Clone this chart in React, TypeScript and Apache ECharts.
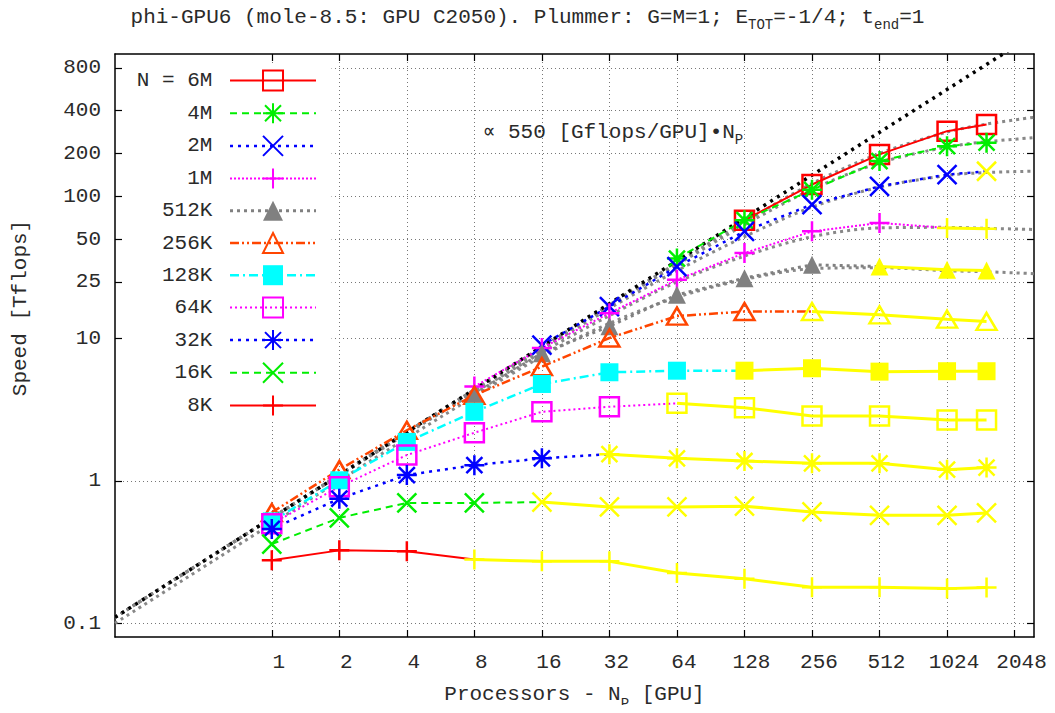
import React, { useEffect, useRef } from "react";
import * as echarts from "echarts";

// ---------- data ----------
const xTickValues = [1, 2, 4, 8, 16, 32, 64, 128, 256, 512, 1024, 2048];
const yTickValues = [0.1, 1, 10, 25, 50, 100, 200, 400, 800];
const xRange = [0.2, 2500];
const yRange = [0.08, 1000];

const seriesNames = ["6M", "4M", "2M", "1M", "512K", "256K", "128K", "64K", "32K", "16K", "8K"];

const np6M = [128, 256, 512, 1024, 1536];
const sp6M = [68, 121, 197, 287, 320];
const np4M = [64, 128, 256, 512, 1024, 1536];
const sp4M = [36.5, 68, 111, 177, 225, 238];
const np2M = [16, 32, 64, 128, 256, 512, 1024, 1536];
const sp2M = [9.0, 16.8, 32, 56.7, 87.5, 117.5, 142, 150];
const np1M = [8, 16, 32, 64, 128, 256, 512, 1024, 1536];
const sp1M = [4.6, 8.6, 15.1, 25.9, 39.9, 56.7, 65, 59.9, 59.2];
const np512K = [8, 16, 32, 64, 128, 256, 512, 1024, 1536];
const sp512K = [4.1, 7.9, 12.2, 20.3, 26.6, 33, 32.1, 30.5, 30.1];
const npAll = [1, 2, 4, 8, 16, 32, 64, 128, 256, 512, 1024, 1536];
const sp256K = [0.6, 1.2, 2.27, 4.0, 6.35, 10.1, 14.4, 15.5, 15.5, 14.7, 13.7, 13.2];
const sp128K = [0.52, 1.01, 1.88, 3.06, 4.8, 5.8, 5.95, 5.95, 6.19, 5.86, 5.9, 5.9];
const sp64K = [0.5, 0.91, 1.52, 2.18, 3.06, 3.32, 3.51, 3.27, 2.86, 2.86, 2.68, 2.68];
const sp32K = [0.46, 0.75, 1.1, 1.29, 1.44, 1.54, 1.44, 1.38, 1.33, 1.33, 1.2, 1.24];
const sp16K = [0.36, 0.55, 0.7, 0.7, 0.71, 0.656, 0.656, 0.664, 0.605, 0.573, 0.573, 0.596];
const sp8K = [0.277, 0.325, 0.32, 0.28, 0.272, 0.272, 0.225, 0.205, 0.179, 0.179, 0.175, 0.178];

// first N_P at which each run is drawn in yellow (null: never)
const yellowFrom = [null, null, 1536, 1024, 512, 256, 128, 64, 32, 16, 8];

const seriesNP = [np6M, np4M, np2M, np1M, np512K, npAll, npAll, npAll, npAll, npAll, npAll];
const seriesSpeed = [sp6M, sp4M, sp2M, sp1M, sp512K, sp256K, sp128K, sp64K, sp32K, sp16K, sp8K];

// ideal scaling: 550 Gflops/GPU * N_P
const idealNP = [0.2, 2500];
const idealSpeed = [0.11, 1375];

// model (fit) curves, grey dotted
const fitNP = [0.2, 1, 4, 16, 32, 64, 128, 256, 512, 1024, 1536, 2500];
const fit6M = [0.11, 0.55, 2.2, 8.7, 17.3, 34, 66, 123, 200, 283, 322, 359];
const fit4M = [0.11, 0.55, 2.2, 8.6, 17, 33, 63, 112, 172, 222, 242, 258];
const fit2M = [0.11, 0.55, 2.2, 8.4, 16.3, 30, 52, 84, 116, 140, 147, 150];
const fit1M = [0.11, 0.55, 2.15, 8.0, 14.5, 25, 38, 52, 60, 60.5, 59.5, 58.5];
const fit512K = [0.1, 0.5, 2.0, 7.5, 12.8, 19.5, 26, 31, 31.5, 30, 29.5, 28.6];
const fitCurves = [fit6M, fit4M, fit2M, fit1M, fit512K];

// ---------- styles ----------
const FONT = '"Liberation Mono", "DejaVu Sans Mono", monospace';
const TXT = "#2a2a2a";
const YELLOW = "#ffff00";
const SYM_PLUS = "path://M0,10L20,10M10,0L10,20";
const SYM_CROSS = "path://M0,0L20,20M20,0L0,20";
const SYM_STAR = "path://M0,10L20,10M10,0L10,20M2,2L18,18M18,2L2,18";
const SYM_OSQ = "path://M0,0L20,0L20,20L0,20Z";
const SYM_OTRI = "path://M10,0L20,17L0,17Z";

type St = { color: string; dash: any; width: number; symbol: string; size: number; filled: boolean };
const styles: St[] = [
  { color: "#ff0000", dash: "solid", width: 2, symbol: SYM_OSQ, size: 19, filled: false },
  { color: "#00ee00", dash: [7, 5], width: 2, symbol: SYM_STAR, size: 20, filled: false },
  { color: "#0000ff", dash: [3, 5], width: 2.5, symbol: SYM_CROSS, size: 19, filled: false },
  { color: "#ff00ff", dash: [2, 2], width: 2, symbol: SYM_PLUS, size: 20, filled: false },
  { color: "#808080", dash: [3, 4], width: 3, symbol: "triangle", size: 18, filled: true },
  { color: "#ff4500", dash: [9, 3, 2, 3, 2, 3], width: 2.5, symbol: SYM_OTRI, size: 20, filled: false },
  { color: "#00ffff", dash: [9, 4, 2, 4], width: 2.5, symbol: "rect", size: 18, filled: true },
  { color: "#ff00ff", dash: [2, 3], width: 2, symbol: SYM_OSQ, size: 19, filled: false },
  { color: "#0000ff", dash: [3, 5], width: 2.5, symbol: SYM_STAR, size: 20, filled: false },
  { color: "#00ee00", dash: [7, 5], width: 2, symbol: SYM_CROSS, size: 19, filled: false },
  { color: "#ff0000", dash: "solid", width: 2, symbol: SYM_PLUS, size: 20, filled: false },
];

const lx = (v: number) => Math.log2(v);
const ly = (v: number) => Math.log10(v);
const pts = (xs: number[], ys: number[]) => xs.map((x, i) => [lx(x), ly(ys[i])]);

function itemStyleFor(color: string, filled: boolean) {
  return filled
    ? { color, borderColor: color, borderWidth: 0 }
    : { color: "rgba(0,0,0,0)", borderColor: color, borderWidth: 2.5 };
}

const nbsp = "\u00a0";
function legendLabel(name: string) {
  const s = name === "6M" ? "N = 6M" : name;
  return s.padStart(6, nbsp).replace(/ /g, nbsp) + nbsp;
}

export default function App() {
  const ref = useRef<HTMLDivElement>(null);
  useEffect(() => {
    if (!ref.current) return;
    const chart = echarts.init(ref.current, undefined, { renderer: "svg" });

    const series: any[] = [];
    fitCurves.forEach((c, i) => {
      series.push({
        name: "fit" + i,
        type: "line",
        data: pts(fitNP, c),
        showSymbol: false,
        symbol: "none",
        smooth: 0.3,
        z: 1,
        lineStyle: { color: "#888888", width: 3, type: [3, 4] },
      });
    });
    series.push({
      name: "ideal",
      type: "line",
      data: pts(idealNP, idealSpeed),
      symbol: "none",
      z: 2,
      lineStyle: { color: "#000000", width: 3.5, type: [3, 5] },
    });

    const yellowSeries: any[] = [];
    seriesNames.forEach((name, i) => {
      const st = styles[i];
      const all = pts(seriesNP[i], seriesSpeed[i]);
      const yf = yellowFrom[i];
      const k = yf == null ? -1 : seriesNP[i].indexOf(yf);
      const colored = k < 0 ? all : all.slice(0, k + 1);
      series.push({
        name,
        type: "line",
        z: 3,
        data: colored.map((p, j) =>
          k >= 0 && j === colored.length - 1 ? { value: p, symbol: "none" } : p
        ),
        symbol: st.symbol,
        symbolSize: st.symbol === SYM_OTRI ? [20, 17] : st.size,
        lineStyle: { color: st.color, width: st.width, type: st.dash },
        itemStyle: itemStyleFor(st.color, st.filled),
      });
      if (k >= 0) {
        yellowSeries.push({
          name: name + " (yellow)",
          type: "line",
          z: 4,
          data: all.slice(k),
          symbol: st.symbol,
          symbolSize: st.symbol === SYM_OTRI ? [20, 17] : st.size,
          lineStyle: { color: YELLOW, width: 3, type: "solid" },
          itemStyle: itemStyleFor(YELLOW, st.filled),
        });
      }
    });
    series.push(...yellowSeries);

    const xTicks = xTickValues.map(lx);
    const yTicks = yTickValues.map(ly);
    const axisLine = { show: true, onZero: false, lineStyle: { color: "#000", width: 1.5 } };
    const tick = { show: true, inside: true, length: 7, lineStyle: { color: "#000", width: 1.2 } };
    const grid = { color: "#777", width: 1, type: [1, 3] };

    const option: any = {
      animation: false,
      backgroundColor: "#fff",
      title: {
        text: "phi-GPU6 (mole-8.5: GPU C2050). Plummer: G=M=1; E{sub|TOT}=-1/4; t{sub|end}=1",
        left: "center",
        top: 0,
        padding: [2, 0, 0, 27],
        textStyle: {
          fontFamily: FONT,
          fontSize: 21,
          fontWeight: "normal",
          color: TXT,
          rich: { sub: { fontFamily: FONT, fontSize: 14, color: TXT, padding: [16, 0, 0, 0] } },
        },
      },
      grid: { left: 115, right: 21, top: 54, bottom: 76, containLabel: false, outerBoundsMode: "none" },
      legend: {
        orient: "vertical",
        align: "right",
        left: 123,
        top: 63,
        padding: [6.5, 14, 4, 13.8],
        itemWidth: 86,
        itemHeight: 25,
        itemGap: 10.7,
        backgroundColor: "#fff",
        selectedMode: false,
        z: 10,
        textStyle: { fontFamily: FONT, fontSize: 21, color: TXT },
        formatter: legendLabel,
        data: seriesNames.map((n, i) => ({ name: n, lineStyle: { width: styles[i].width } })),
      },
      xAxis: [
        {
          type: "value",
          position: "bottom",
          min: lx(xRange[0]),
          max: lx(xRange[1]),
          axisLine,
          axisTick: { ...tick, customValues: xTicks },
          axisLabel: {
            customValues: xTicks,
            formatter: (v: number) => String(Math.round(Math.pow(2, v))),
            fontFamily: FONT,
            fontSize: 21,
            color: TXT,
            margin: 15,
            padding: [0, 0, 0, 14],
          },
          splitLine: { show: true, lineStyle: grid },
          name: "Processors - N{sub|P} [GPU]",
          nameLocation: "middle",
          nameGap: 40,
          nameTextStyle: {
            fontFamily: FONT,
            fontSize: 21,
            color: TXT,
            rich: { sub: { fontFamily: FONT, fontSize: 14, color: TXT, padding: [20, 0, 0, 0] } },
          },
        },
        {
          type: "value",
          position: "top",
          min: lx(xRange[0]),
          max: lx(xRange[1]),
          axisLine,
          axisTick: { ...tick, customValues: xTicks },
          axisLabel: { show: false },
          splitLine: { show: false },
        },
      ],
      yAxis: [
        {
          type: "value",
          position: "left",
          min: ly(yRange[0]),
          max: ly(yRange[1]),
          axisLine,
          axisTick: { ...tick, customValues: yTicks },
          axisLabel: {
            customValues: yTicks,
            formatter: (v: number) => String(parseFloat(Math.pow(10, v).toPrecision(4))),
            fontFamily: FONT,
            fontSize: 21,
            color: TXT,
            margin: 14,
          },
          splitLine: { show: true, lineStyle: grid },
          name: "Speed [Tflops]",
          nameLocation: "middle",
          nameGap: 84,
          nameTextStyle: { fontFamily: FONT, fontSize: 21, color: TXT, padding: [0, 0, 0, 75] },
        },
        {
          type: "value",
          position: "right",
          min: ly(yRange[0]),
          max: ly(yRange[1]),
          axisLine,
          axisTick: { ...tick, customValues: yTicks },
          axisLabel: { show: false },
          splitLine: { show: false },
        },
      ],
      graphic: [
        {
          type: "text",
          x: 613,
          y: 132,
          z: 20,
          style: {
            text: "\u221d 550 [Gflops/GPU]\u2022N{sub|P}",
            align: "center",
            verticalAlign: "middle",
            fontFamily: FONT,
            fontSize: 21,
            fill: TXT,
            rich: { sub: { fontFamily: FONT, fontSize: 14, fill: TXT, padding: [16, 0, 0, 0] } },
          },
        },
      ],
      series,
    };
    chart.setOption(option);
    return () => chart.dispose();
  }, []);
  return <div ref={ref} style={{ width: 1055, height: 713, margin: -8 }} />;
}
